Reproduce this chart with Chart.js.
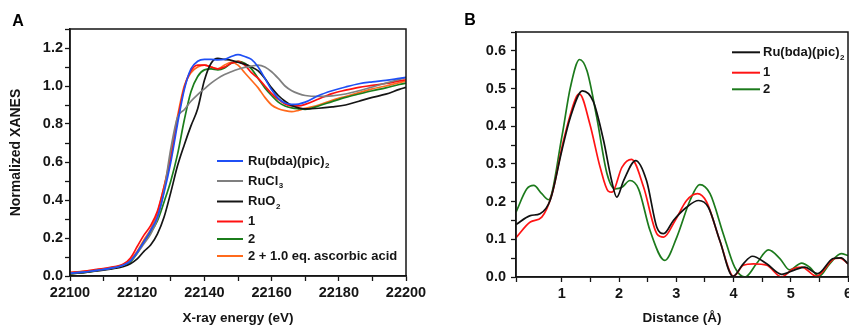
<!DOCTYPE html>
<html>
<head>
<meta charset="utf-8">
<script src="https://cdn.jsdelivr.net/npm/chart.js@4.4.1/dist/chart.umd.min.js"></script>
<style>
  body { margin: 0; background: #fff; }
  #wrap { position: relative; width: 849px; height: 327px; overflow: hidden; }
  canvas { position: absolute; top: 0; }
</style>
</head>
<body>
<div id="wrap">
  <canvas id="xanes" width="430" height="327" style="left:0"></canvas>
  <canvas id="ft" width="419" height="327" style="left:430px"></canvas>
</div>
<script>
// Panel A - XANES spectra
const energies = [22100, 22104, 22108, 22112, 22116, 22118, 22120, 22122, 22124, 22126,
  22128, 22130, 22132, 22134, 22136, 22138, 22140, 22142, 22144, 22146,
  22148, 22150, 22152, 22154, 22156, 22158, 22160, 22162, 22164, 22166,
  22168, 22170, 22174, 22178, 22182, 22186, 22190, 22194, 22198, 22200];

const xanesRuBda = [0.015, 0.02, 0.03, 0.04, 0.058, 0.08, 0.125, 0.18, 0.24, 0.31,
  0.44, 0.60, 0.80, 0.98, 1.09, 1.13, 1.14, 1.14, 1.138, 1.14,
  1.155, 1.165, 1.155, 1.14, 1.10, 1.04, 0.98, 0.935, 0.91, 0.903,
  0.905, 0.915, 0.95, 0.975, 0.995, 1.012, 1.022, 1.03, 1.04, 1.045];
const xanesRuCl3 = [0.015, 0.02, 0.03, 0.04, 0.058, 0.08, 0.12, 0.17, 0.22, 0.30,
  0.45, 0.67, 0.835, 0.875, 0.92, 0.955, 0.985, 1.015, 1.04, 1.06,
  1.075, 1.088, 1.098, 1.105, 1.11, 1.10, 1.075, 1.04, 1.00, 0.975,
  0.96, 0.95, 0.945, 0.948, 0.958, 0.975, 0.995, 1.015, 1.035, 1.045];
const xanesRuO2 = [0.012, 0.018, 0.027, 0.036, 0.05, 0.065, 0.09, 0.13, 0.163, 0.22,
  0.31, 0.44, 0.58, 0.69, 0.79, 0.88, 1.03, 1.12, 1.145, 1.14,
  1.135, 1.125, 1.115, 1.10, 1.08, 1.04, 0.99, 0.95, 0.92, 0.897,
  0.885, 0.88, 0.883, 0.89, 0.90, 0.92, 0.94, 0.957, 0.982, 0.993];
const xanes1 = [0.018, 0.025, 0.035, 0.045, 0.065, 0.095, 0.155, 0.215, 0.265, 0.34,
  0.47, 0.62, 0.82, 0.99, 1.08, 1.11, 1.11, 1.10, 1.09, 1.10,
  1.12, 1.13, 1.11, 1.07, 1.04, 1.00, 0.96, 0.93, 0.905, 0.895,
  0.895, 0.903, 0.932, 0.96, 0.978, 0.993, 1.003, 1.013, 1.027, 1.033];
const xanes2 = [0.012, 0.018, 0.028, 0.038, 0.055, 0.075, 0.12, 0.18, 0.23, 0.29,
  0.39, 0.50, 0.64, 0.82, 0.97, 1.05, 1.085, 1.09, 1.085, 1.095,
  1.12, 1.13, 1.12, 1.09, 1.04, 0.99, 0.95, 0.915, 0.895, 0.885,
  0.88, 0.877, 0.895, 0.918, 0.94, 0.958, 0.975, 0.99, 1.008, 1.015];
const xanes2Asc = [0.018, 0.025, 0.033, 0.043, 0.06, 0.085, 0.13, 0.19, 0.245, 0.33,
  0.47, 0.64, 0.84, 1.00, 1.07, 1.10, 1.11, 1.10, 1.09, 1.11,
  1.125, 1.11, 1.07, 1.03, 0.99, 0.94, 0.90, 0.88, 0.87, 0.865,
  0.872, 0.882, 0.90, 0.925, 0.945, 0.965, 0.985, 1.00, 1.018, 1.025];

const xanesNames = ['Ru(bda)(pic)_2', 'RuCl_3', 'RuO_2', '1', '2', '2 + 1.0 eq. ascorbic acid'];
const xanesColors = ['#1f4ff5', '#7f7f7f', '#151515', '#ff1010', '#1b7d1b', '#ff6a1c'];

// Panel B - Fourier transformed EXAFS
const ftNames = ['Ru(bda)(pic)_2', '1', '2'];
const ftColors = ['#111111', '#ff1414', '#1c7a1c'];

const distRuBda = [0.2, 0.45, 0.62, 0.8, 1.0, 1.15, 1.36, 1.55, 1.73, 1.87, 1.96, 2.08, 2.29, 2.48, 2.66, 2.78,
  2.95, 3.18, 3.39, 3.56, 3.76, 3.99, 4.17, 4.33, 4.58, 4.84, 5.07, 5.24, 5.47, 5.74, 5.88, 6.0];
const ftRuBda = [0.139, 0.163, 0.168, 0.205, 0.335, 0.424, 0.494, 0.466, 0.362, 0.256, 0.212, 0.256, 0.309, 0.256, 0.132, 0.115,
  0.15, 0.185, 0.203, 0.185, 0.097, 0.002, 0.035, 0.055, 0.035, 0.007, 0.019, 0.026, 0.009, 0.049, 0.051, 0.035];

const dist1 = [0.2, 0.45, 0.65, 0.83, 1.03, 1.26, 1.31, 1.49, 1.67, 1.81, 1.88, 2.05, 2.22, 2.43, 2.66, 2.78,
  2.98, 3.18, 3.37, 3.53, 3.76, 4.0, 4.17, 4.35, 4.58, 4.84, 5.04, 5.19, 5.45, 5.77, 5.86, 6.0];
const ft1 = [0.104, 0.146, 0.159, 0.22, 0.362, 0.48, 0.485, 0.406, 0.291, 0.228, 0.225, 0.291, 0.312, 0.238, 0.115, 0.106,
  0.15, 0.203, 0.221, 0.199, 0.097, 0.002, 0.031, 0.035, 0.031, 0.0, 0.022, 0.026, 0.002, 0.049, 0.05, 0.035];

const dist2 = [0.2, 0.39, 0.51, 0.65, 0.77, 1.0, 1.15, 1.31, 1.44, 1.61, 1.79, 1.93, 2.05, 2.19, 2.34, 2.54, 2.8,
  3.01, 3.24, 3.41, 3.59, 3.82, 4.02, 4.2, 4.4, 4.61, 4.81, 4.98, 5.19, 5.33, 5.49, 5.68, 5.88, 6.0];
const ft2 = [0.172, 0.234, 0.243, 0.221, 0.205, 0.371, 0.503, 0.577, 0.547, 0.424, 0.274, 0.234, 0.238, 0.256, 0.234, 0.124, 0.044,
  0.106, 0.203, 0.245, 0.221, 0.115, 0.026, 0.0, 0.035, 0.072, 0.049, 0.019, 0.037, 0.026, 0.002, 0.035, 0.062, 0.057];

const FONT = "'Liberation Sans', Arial, sans-serif";
const INK = '#151515';

// draws "Text_2" with the part after "_" as subscript
function drawSubText(ctx, text, x, y) {
  const parts = text.split('_');
  ctx.font = 'bold 13px ' + FONT;
  ctx.fillText(parts[0], x, y);
  if (parts.length > 1) {
    const w = ctx.measureText(parts[0]).width;
    ctx.font = 'bold 8px ' + FONT;
    ctx.fillText(parts[1], x + w + 0.5, y + 5);
  }
}

// frame, panel letter and legend with subscripts
const panelDecor = {
  id: 'panelDecor',
  afterDraw(chart, args, opts) {
    const ctx = chart.ctx;
    const a = chart.chartArea;
    ctx.save();
    ctx.strokeStyle = INK;
    ctx.lineWidth = 1.5;
    ctx.strokeRect(a.left, a.top, a.right - a.left, a.bottom - a.top);

    ctx.fillStyle = '#000';
    ctx.textBaseline = 'middle';
    ctx.textAlign = 'center';
    ctx.font = 'bold 16px ' + FONT;
    ctx.fillText(opts.letter, opts.letterX, opts.letterY);

    ctx.textAlign = 'left';
    chart.data.datasets.forEach((ds, i) => {
      const y = opts.rows[i];
      ctx.strokeStyle = ds.borderColor;
      ctx.lineWidth = 2;
      ctx.beginPath();
      ctx.moveTo(opts.lineX0, y);
      ctx.lineTo(opts.lineX1, y);
      ctx.stroke();
      ctx.fillStyle = INK;
      drawSubText(ctx, ds.subLabel, opts.textX, y);
    });
    ctx.restore();
  }
};

function axisTicks(pad) {
  return {
    font: { family: FONT, weight: 'bold', size: 14.5 },
    color: INK,
    padding: pad,
    autoSkip: false,
    maxRotation: 0
  };
}

const gridOpts = { drawOnChartArea: false, drawTicks: true, tickLength: 5, tickColor: INK, tickWidth: 1.3 };
const borderOpts = { color: INK, width: 1.5 };

// Panel A chart
new Chart(document.getElementById('xanes'), {
  type: 'line',
  data: {
    labels: energies,
    datasets: [xanesRuBda, xanesRuCl3, xanesRuO2, xanes1, xanes2, xanes2Asc].map((vals, i) => ({
      label: xanesNames[i].replace('_', ''),
      subLabel: xanesNames[i],
      data: vals.map((v, j) => ({ x: energies[j], y: v })),
      borderColor: xanesColors[i],
      borderWidth: 1.7,
      pointRadius: 0,
      cubicInterpolationMode: 'monotone',
      fill: false
    }))
  },
  options: {
    responsive: false,
    animation: false,
    layout: { padding: { top: 29, right: 24, left: 0, bottom: 0 } },
    plugins: {
      legend: { display: false },
      tooltip: { enabled: false },
      panelDecor: {
        letter: 'A', letterX: 18, letterY: 22,
        lineX0: 217, lineX1: 243, textX: 248,
        rows: [161, 181, 201.5, 221.5, 239, 256]
      }
    },
    scales: {
      x: {
        type: 'linear', min: 22100, max: 22200,
        grid: gridOpts, border: borderOpts,
        ticks: Object.assign(axisTicks(3), {
          stepSize: 10,
          callback: v => (v % 20 === 0 ? String(v) : '')
        }),
        title: { display: true, text: 'X-ray energy (eV)', color: INK,
          font: { family: FONT, weight: 'bold', size: 13.5 }, padding: { top: 0, bottom: 1 } },
        afterFit: s => { s.height = 51; s.paddingLeft = 0; s.paddingRight = 0; }
      },
      y: {
        min: 0, max: 1.3,
        grid: gridOpts, border: borderOpts,
        ticks: Object.assign(axisTicks(2), {
          stepSize: 0.1,
          callback: v => (Math.round(v * 10) % 2 === 0 ? v.toFixed(1) : '')
        }),
        title: { display: true, text: 'Normalized XANES', color: INK,
          font: { family: FONT, weight: 'bold', size: 14 }, padding: { top: 8, bottom: 0 } },
        afterFit: s => { s.width = 70; s.paddingTop = 0; s.paddingBottom = 0; }
      }
    }
  },
  plugins: [panelDecor]
});

// Panel B chart
const ftSeries = [[distRuBda, ftRuBda], [dist1, ft1], [dist2, ft2]];
new Chart(document.getElementById('ft'), {
  type: 'line',
  data: {
    datasets: ftSeries.map(([xs, ys], i) => ({
      label: ftNames[i].replace('_', ''),
      subLabel: ftNames[i],
      data: xs.map((x, j) => ({ x: x, y: ys[j] })),
      borderColor: ftColors[i],
      borderWidth: 1.7,
      pointRadius: 0,
      cubicInterpolationMode: 'monotone',
      fill: false
    }))
  },
  options: {
    responsive: false,
    animation: false,
    layout: { padding: { top: 32, right: 1, left: 0, bottom: 0 } },
    plugins: {
      legend: { display: false },
      tooltip: { enabled: false },
      panelDecor: {
        letter: 'B', letterX: 40, letterY: 21,
        lineX0: 302, lineX1: 330, textX: 333,
        rows: [52.3, 72.7, 89.3]
      }
    },
    scales: {
      x: {
        type: 'linear', min: 0.2, max: 6,
        grid: gridOpts, border: borderOpts,
        ticks: Object.assign(axisTicks(3), {
          stepSize: 0.5,
          callback: v => (v >= 1 && Math.abs(v - Math.round(v)) < 1e-6 ? String(Math.round(v)) : '')
        }),
        title: { display: true, text: 'Distance (Å)', color: INK,
          font: { family: FONT, weight: 'bold', size: 13.5 }, padding: { top: 0, bottom: 1 } },
        afterFit: s => { s.height = 50; s.paddingLeft = 0; s.paddingRight = 0; }
      },
      y: {
        min: 0, max: 0.65,
        grid: gridOpts, border: borderOpts,
        ticks: Object.assign(axisTicks(5), {
          stepSize: 0.05,
          callback: v => (Math.round(v * 100) % 10 === 0 ? v.toFixed(1) : '')
        }),
        afterFit: s => { s.width = 86; s.paddingTop = 0; s.paddingBottom = 0; }
      }
    }
  },
  plugins: [panelDecor]
});
</script>
</body>
</html>
